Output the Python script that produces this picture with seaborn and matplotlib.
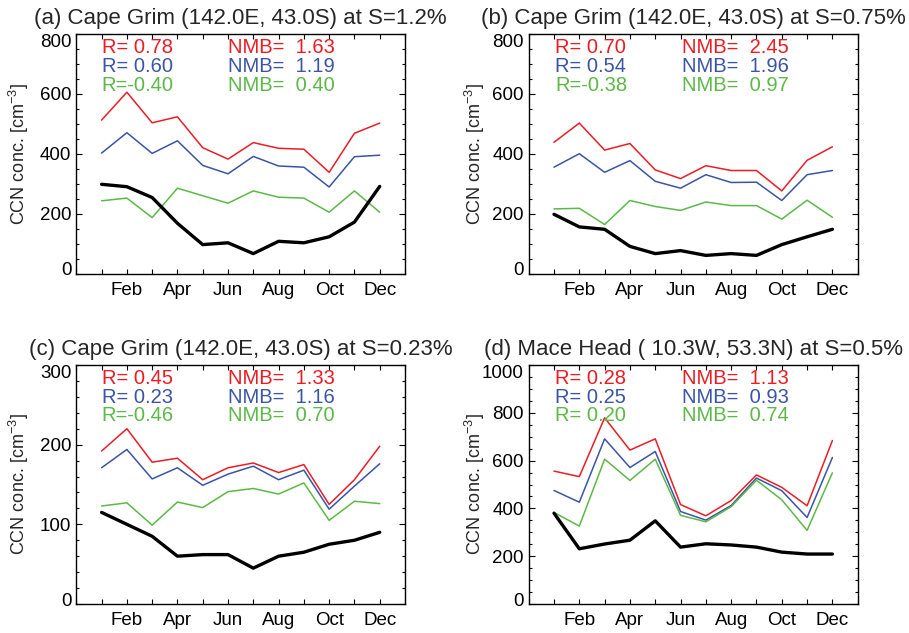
import numpy as np
import pandas as pd
import matplotlib
matplotlib.use("Agg")
import matplotlib.pyplot as plt
import matplotlib.transforms as mtrans
import seaborn as sns
from matplotlib.ticker import MultipleLocator, FixedLocator, FixedFormatter

sns.set_theme(style="ticks")
plt.rcParams['font.family'] = ['Liberation Sans', 'DejaVu Sans']
plt.rcParams['mathtext.fontset'] = 'custom'
plt.rcParams['mathtext.rm'] = 'Liberation Sans'
plt.rcParams['mathtext.it'] = 'Liberation Sans'

months = np.arange(1, 13)
month_labels = ["Feb", "Apr", "Jun", "Aug", "Oct", "Dec"]

# (a) Cape Grim S=1.2%
a_obs = [299, 291, 255, 169, 98, 104, 68, 109, 104, 124, 173, 292]
a_red = [513, 606, 504, 524, 421, 383, 438, 419, 416, 339, 469, 503]
a_blue = [403, 471, 402, 444, 362, 334, 392, 360, 356, 290, 391, 396]
a_green = [244, 253, 188, 286, 261, 236, 277, 256, 253, 206, 277, 206]

# (b) Cape Grim S=0.75%
b_obs = [199, 157, 149, 92, 68, 78, 62, 68, 62, 98, 124, 149]
b_red = [439, 503, 413, 435, 347, 318, 361, 345, 345, 277, 379, 424]
b_blue = [356, 401, 339, 378, 309, 286, 331, 305, 306, 245, 331, 345]
b_green = [217, 219, 165, 245, 225, 212, 240, 228, 228, 183, 246, 189]

# (c) Cape Grim S=0.23%
c_obs = [115, 100, 85, 60, 62, 62, 45, 60, 65, 75, 80, 90]
c_red = [192, 220, 178, 183, 156, 171, 177, 165, 175, 125, 156, 198]
c_blue = [171, 194, 157, 171, 149, 163, 173, 156, 168, 119, 148, 176]
c_green = [123, 127, 99, 128, 121, 141, 145, 138, 152, 105, 129, 126]

# (d) Mace Head S=0.5%
d_obs = [380, 231, 251, 267, 348, 238, 252, 247, 238, 217, 209, 209]
d_red = [556, 533, 779, 644, 691, 416, 369, 433, 540, 488, 411, 684]
d_blue = [475, 426, 691, 571, 638, 387, 351, 412, 527, 474, 362, 613]
d_green = [383, 326, 606, 517, 606, 371, 344, 407, 518, 436, 308, 549]

titles = ["(a) Cape Grim (142.0E, 43.0S) at S=1.2%",
          "(b) Cape Grim (142.0E, 43.0S) at S=0.75%",
          "(c) Cape Grim (142.0E, 43.0S) at S=0.23%",
          "(d) Mace Head ( 10.3W, 53.3N) at S=0.5%"]
r_vals = [["0.78", "0.60", "-0.40"], ["0.70", "0.54", "-0.38"],
          ["0.45", "0.23", "-0.46"], ["0.28", "0.25", "0.20"]]
nmb_vals = [["1.63", "1.19", "0.40"], ["2.45", "1.96", "0.97"],
            ["1.33", "1.16", "0.70"], ["1.13", "0.93", "0.74"]]
ymax = [800, 800, 300, 1000]
ymajor = [200, 200, 100, 200]
yminor = [50, 50, 20, 50]

panels = [(a_obs, a_red, a_blue, a_green), (b_obs, b_red, b_blue, b_green),
          (c_obs, c_red, c_blue, c_green), (d_obs, d_red, d_blue, d_green)]

red, blue, green = "#ec1c24", "#3a55a5", "#5cb947"
colors = [red, blue, green]

W, H = 909, 633
boxes = [(76.3, 34, 405, 274), (528.7, 34, 857.7, 274),
         (76.3, 365, 405, 604), (528.7, 365, 857.7, 604)]
ylabel_x = [31, 487, 31, 487]

fig = plt.figure(figsize=(9.09, 6.33), dpi=100)
for i, (obs, r, b, g) in enumerate(panels):
    x0, y0, x1, y1 = boxes[i]
    ax = fig.add_axes([x0 / W, 1 - y1 / H, (x1 - x0) / W, (y1 - y0) / H])
    for vals, col in zip([r, b, g], colors):
        sns.lineplot(x=months, y=vals, color=col, linewidth=1.1, ax=ax)
    sns.lineplot(x=months, y=obs, color="black", linewidth=2.4, ax=ax)

    ax.set_xlim(0, 13)
    ax.set_ylim(0, ymax[i])
    ax.xaxis.set_major_locator(FixedLocator(list(range(0, 14))))
    ax.xaxis.set_major_formatter(FixedFormatter(
        ["", ""] + [m for mm in zip(month_labels, [""] * 6) for m in mm] + [""]))
    ax.yaxis.set_major_locator(FixedLocator(np.arange(0, ymax[i] + 1, ymajor[i])))
    ax.yaxis.set_minor_locator(MultipleLocator(yminor[i]))
    ax.tick_params(axis="both", which="both", direction="in", top=True, right=True,
                   labelsize=13.5, width=0.8, colors="black")
    ax.tick_params(axis="x", which="major", length=3.5, pad=6)
    ax.tick_params(axis="y", which="major", length=4.5, pad=3.5)
    ax.tick_params(axis="y", which="minor", length=2.5)
    for sp in ax.spines.values():
        sp.set_linewidth(1.0)
        sp.set_color("black")

    ax.set_title(titles[i], fontsize=16, pad=7)
    ax.set_xlabel("")
    ax.set_ylabel("CCN conc. [cm$^{-3}$]", fontsize=13)
    ax.yaxis.set_label_coords((ylabel_x[i] - x0) / (x1 - x0), 0.5)

    rx = 0.077 if i % 2 == 0 else 0.08
    nx = 0.462 if i % 2 == 0 else 0.465
    for k, col in enumerate(colors):
        yy = 0.945 - k * 0.079
        ax.text(rx, yy, "R=" + ("" if r_vals[i][k].startswith("-") else " ") + r_vals[i][k],
                transform=ax.transAxes, color=col, fontsize=14.5, va="center", ha="left")
        ax.text(nx, yy, "NMB=  " + nmb_vals[i][k],
                transform=ax.transAxes, color=col, fontsize=14.5, va="center", ha="left")

    # end labels sit inside the axis range, as in the original
    yt = ax.yaxis.get_major_ticks()
    yt[0].label1.set_transform(yt[0].label1.get_transform()
                               + mtrans.ScaledTranslation(0, 0.05, fig.dpi_scale_trans))
    yt[-1].label1.set_transform(yt[-1].label1.get_transform()
                                + mtrans.ScaledTranslation(0, -0.065, fig.dpi_scale_trans))

fig.savefig("out.png", dpi=100)
